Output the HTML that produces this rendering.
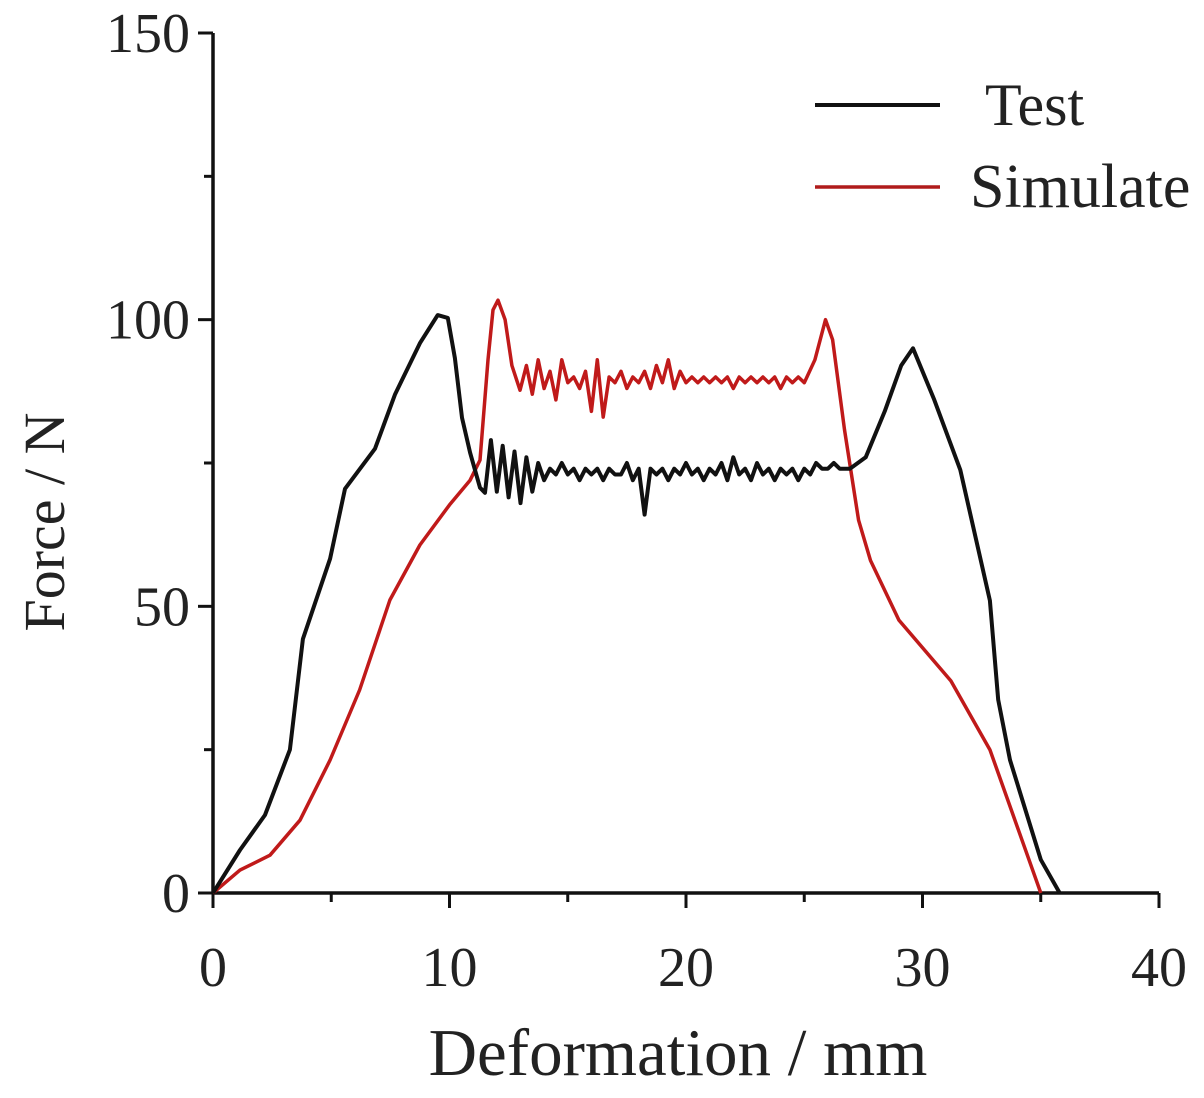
<!DOCTYPE html>
<html><head><meta charset="utf-8"><style>
html,body{margin:0;padding:0;background:#fff;}
svg text{font-family:"Liberation Serif",serif;fill:#222;}
</style></head><body>
<svg id="chart" width="1204" height="1093" viewBox="0 0 1204 1093">
<g id="axes"></g>
<g id="series"></g>
<g>
<line x1="815" y1="105" x2="940" y2="105" stroke="#111" stroke-width="4"/>
<text x="985" y="125" font-size="60">Test</text>
<line x1="815" y1="187" x2="940" y2="187" stroke="#b01c1c" stroke-width="3.5"/>
<text x="970" y="207" font-size="62">Simulate</text>
</g>
<text x="678" y="1075" font-size="67" text-anchor="middle">Deformation / mm</text>
<text transform="translate(64,522) rotate(-90)" font-size="58" text-anchor="middle">Force / N</text>
</svg>
<script>
const xTicks=[0,10,20,30,40];
const yTicks=[0,50,100,150];
const testHeadX=[0,1.14,2.2,3.25,3.8,4.95,5.58,6.85,7.7,8.75,9.5,9.93,10.23,10.53,10.87,11.29,11.5];
const testHeadY=[0,7.5,13.6,25,44.3,58.3,70.5,77.5,87,95.9,100.8,100.3,93.3,82.9,76.8,70.7,69.8];
const testNoiseStart=11.75, testNoiseStep=0.25;
const testNoiseY=[79,70,78,69,77,68,76,70,75,72,74,73,75,73,74,72,74,73,74,72,74,73,73,75,72,74,66,74,73,74,72,74,73,75,73,74,72,74,73,75,72,76,73,74,72,75,73,74,72,74,73,74,72,74,73,75,74,74,75,74];
const testTailX=[26.93,27.6,28.4,29.1,29.6,30.5,31.6,32.85,33.2,33.7,35,35.8];
const testTailY=[74,76,84,92,95,86,73.8,51,33.7,23.2,5.8,0];
const simHeadX=[0,1.14,2.41,3.68,4.95,6.2,7.48,8.75,10.0,10.87,11.29,11.63,11.84,12.05,12.35,12.64,12.98];
const simHeadY=[0,4,6.6,12.7,23.2,35.4,51.1,60.7,67.7,72,75.5,93,101.7,103.4,100,92,87.7];
const simNoiseStart=13.0, simNoiseStep=0.25;
const simNoiseY=[88,92,87,93,88,91,86,93,89,90,88,91,84,93,83,90,89,91,88,90,89,91,88,92,89,93,88,91,89,90,89,90,89,90,89,90,88,90,89,90,89,90,89,90,88,90,89,90,89];
const simTailX=[25.45,25.9,26.2,26.7,27.3,27.8,29,31.2,32.85,35];
const simTailY=[93,100,96.5,80.8,65,58,47.6,37,25,0];

const X=v=>213+v*(1159-213)/40;
const Y=v=>893-v*(893-33)/150;
const NS='http://www.w3.org/2000/svg';
const axes=document.getElementById('axes');
function mk(tag,attrs,parent){const e=document.createElementNS(NS,tag);for(const k in attrs)e.setAttribute(k,attrs[k]);parent.appendChild(e);return e;}

let l=mk('line',{x1:X(0),y1:Y(0),x2:X(40),y2:Y(0),stroke:'#111','stroke-width':3.5},axes);


l=mk('line',{x1:X(0),y1:Y(0)+1,x2:X(0),y2:Y(150),stroke:'#111','stroke-width':3.5},axes);


for(let v=0;v<=40;v+=5){const major=v%10===0;
 const t=mk('line',{x1:X(v),y1:Y(0),x2:X(v),y2:Y(0)+(major?15:9),stroke:'#111','stroke-width':3},axes);
 
 }
xTicks.forEach(v=>{const t=mk('text',{x:X(v),y:986,'font-size':56,'text-anchor':'middle'},axes);t.textContent=v;
 
 });
for(let v=0;v<=150;v+=25){const major=v%50===0;
 const t=mk('line',{x1:X(0),y1:Y(v),x2:X(0)-(major?15:9),y2:Y(v),stroke:'#111','stroke-width':3},axes);
 
 }
yTicks.forEach(v=>{const t=mk('text',{x:190,y:Y(v)+19,'font-size':56,'text-anchor':'end'},axes);t.textContent=v;
 
 });

function build(hx,hy,ns,st,ny,tx,ty){const p=[];hx.forEach((x,i)=>p.push([x,hy[i]]));ny.forEach((y,i)=>p.push([ns+i*st,y]));tx.forEach((x,i)=>p.push([x,ty[i]]));return p;}
const ser=document.getElementById('series');
const sim=build(simHeadX,simHeadY,simNoiseStart,simNoiseStep,simNoiseY,simTailX,simTailY);
const test=build(testHeadX,testHeadY,testNoiseStart,testNoiseStep,testNoiseY,testTailX,testTailY);
let p=mk('path',{d:'M'+sim.map(q=>X(q[0]).toFixed(1)+','+Y(q[1]).toFixed(1)).join('L'),fill:'none',stroke:'#c01a1a','stroke-width':3.5,'stroke-linejoin':'round'},ser);


p=mk('path',{d:'M'+test.map(q=>X(q[0]).toFixed(1)+','+Y(q[1]).toFixed(1)).join('L'),fill:'none',stroke:'#111','stroke-width':4,'stroke-linejoin':'round'},ser);


</script>
</body></html>
